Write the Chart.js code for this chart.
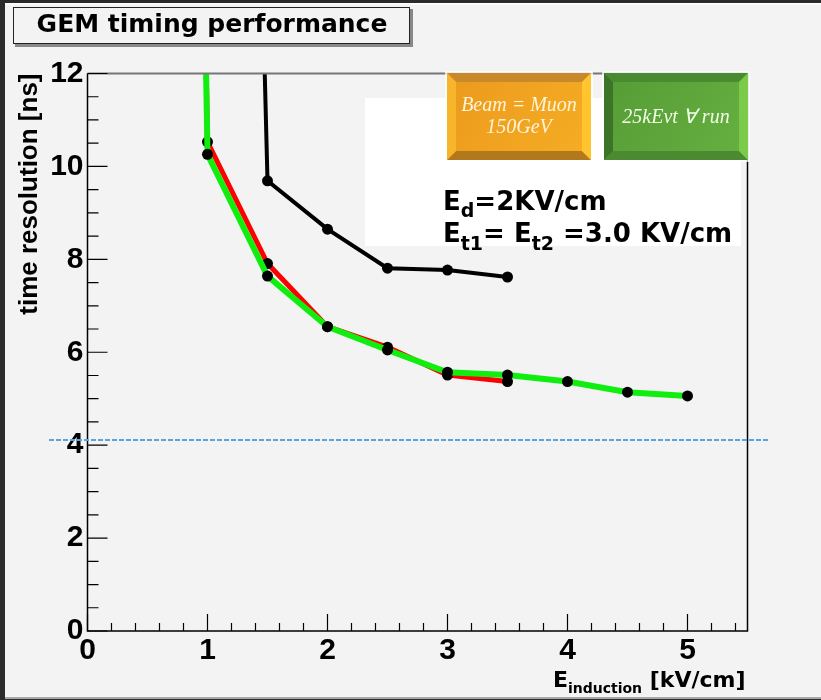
<!DOCTYPE html>
<html>
<head>
<meta charset="utf-8">
<script src="https://cdn.jsdelivr.net/npm/chart.js@4.4.0/dist/chart.umd.min.js"></script>
<style>
html,body{margin:0;padding:0;background:#2b2b2b;}
canvas{display:block;}
</style>
</head>
<body>
<canvas id="c" width="821" height="700"></canvas>
<script>
// E_induction [kV/cm] vs time resolution [ns]
var blackX = [1.0, 1.5, 2.0, 2.5, 3.0, 3.5];
var blackY = [60, 9.69, 8.65, 7.81, 7.77, 7.62];
var redX = [0.8, 1.0, 1.5, 2.0, 2.5, 3.0, 3.5];
var redY = [40, 10.53, 7.91, 6.55, 6.11, 5.51, 5.37];
var greenX = [0.8, 1.0, 1.5, 2.0, 2.5, 3.0, 3.5, 4.0, 4.5, 5.0];
var greenY = [40, 10.26, 7.64, 6.55, 6.05, 5.57, 5.51, 5.37, 5.14, 5.06];
var refLevel = 4.11;

var xMin = 0, xMax = 5.5, yMin = 0, yMax = 12;

function pts(xs, ys) {
	return xs.map(function (x, i) { return {x: x, y: ys[i]}; });
}

function runs(c, parts, x, y) {
	parts.forEach(function (p) {
		c.font = 'bold ' + p[1] + 'px "DejaVu Sans"';
		c.fillText(p[0], x, y + p[2]);
		x += c.measureText(p[0]).width;
	});
	return x;
}

function runsWidth(c, parts) {
	var w = 0;
	parts.forEach(function (p) {
		c.font = 'bold ' + p[1] + 'px "DejaVu Sans"';
		w += c.measureText(p[0]).width;
	});
	return w;
}

function poly(c, col, p) {
	c.fillStyle = col;
	c.beginPath();
	c.moveTo(p[0][0], p[0][1]);
	for (var i = 1; i < p.length; i++) c.lineTo(p[i][0], p[i][1]);
	c.closePath();
	c.fill();
}

function bevelBox(c, x, y, w, h, b, face, faceR, top, left, bottom, right) {
	var g = c.createLinearGradient(x, y, x + w, y + h);
	g.addColorStop(0, face);
	g.addColorStop(1, faceR);
	c.fillStyle = g;
	c.fillRect(x, y, w, h);
	poly(c, top, [[x, y], [x + w, y], [x + w - b, y + b], [x + b, y + b]]);
	poly(c, bottom, [[x, y + h], [x + w, y + h], [x + w - b, y + h - b], [x + b, y + h - b]]);
	poly(c, left, [[x, y], [x + b, y + b], [x + b, y + h - b], [x, y + h]]);
	poly(c, right, [[x + w, y], [x + w - b, y + b], [x + w - b, y + h - b], [x + w, y + h]]);
	c.strokeStyle = '#ffffff';
	c.lineWidth = 1.5;
	c.strokeRect(x - 1, y - 1, w + 2, h + 2);
}

var deco = {
	id: 'deco',
	beforeDraw: function (chart) {
		var c = chart.ctx;
		c.save();
		c.fillStyle = '#2b2b2b';
		c.fillRect(0, 0, 821, 700);
		c.fillStyle = '#f3f3f3';
		c.fillRect(5, 4, 816, 694);
		c.fillStyle = '#ffffff';
		c.fillRect(5, 3, 816, 1.5);
		c.fillStyle = '#a8a8a8';
		c.fillRect(5, 697, 816, 2);
		c.restore();
	},
	beforeDatasetsDraw: function (chart) {
		var c = chart.ctx;
		c.save();
		c.fillStyle = '#ffffff';
		c.fillRect(365, 98, 376, 148);
		c.restore();
	},
	afterDraw: function (chart) {
		var c = chart.ctx, a = chart.chartArea;
		var xs = chart.scales.x, ys = chart.scales.y;
		c.save();

		// frame
		c.strokeStyle = '#777777';
		c.lineWidth = 2;
		c.beginPath(); c.moveTo(a.left, a.top); c.lineTo(a.right, a.top); c.stroke();
		c.strokeStyle = '#000000';
		c.lineWidth = 1.5;
		c.beginPath();
		c.moveTo(a.left, a.top); c.lineTo(a.left, a.bottom); c.lineTo(a.right, a.bottom); c.lineTo(a.right, a.top);
		c.stroke();

		// ticks pointing inward
		c.lineWidth = 1.2;
		c.beginPath();
		for (var v = 0; v <= 54; v += 2) {
			var px = xs.getPixelForValue(v / 10);
			var len = (v % 10 === 0) ? 17 : 8;
			c.moveTo(px, a.bottom); c.lineTo(px, a.bottom - len);
		}
		for (var k = 0; k <= 24; k++) {
			var py = ys.getPixelForValue(k / 2);
			var ln = (k % 4 === 0) ? 20 : 11;
			c.moveTo(a.left, py); c.lineTo(a.left + ln, py);
		}
		c.stroke();

		// x axis title
		c.fillStyle = '#000000';
		c.textBaseline = 'alphabetic';
		var xt = [['E', 22, 0], ['induction', 14, 6], [' [kV/cm]', 22, 0]];
		runs(c, xt, a.right - runsWidth(c, xt) - 2, 687);

		// title box
		c.fillStyle = '#888888';
		c.fillRect(15, 9, 398, 38);
		c.fillStyle = '#f3f3f3';
		c.fillRect(13, 7, 397, 37);
		c.strokeStyle = '#222222';
		c.lineWidth = 1;
		c.strokeRect(13.5, 7.5, 396, 36);
		c.fillStyle = '#000000';
		c.font = 'bold 25px "DejaVu Sans"';
		c.textAlign = 'center';
		c.textBaseline = 'middle';
		c.fillText('GEM timing performance', 212, 25);

		// beam boxes
		bevelBox(c, 447, 73, 144, 87, 9, '#eb9a1c', '#f6ad24', '#c7892a', '#f7b52c', '#b2781c', '#ffc42e');
		bevelBox(c, 604, 73, 144, 87, 9, '#569c36', '#66b040', '#4a8a30', '#3d7428', '#4c8a32', '#7acb4a');
		c.font = 'italic 20px "Liberation Serif"';
		c.textBaseline = 'alphabetic';
		c.fillStyle = '#fff4d8';
		c.fillText('Beam = Muon', 519, 111);
		c.fillText('150GeV', 519, 133);
		c.fillStyle = '#f2ffe8';
		c.fillText('25kEvt \u2200 run', 676, 123);

		// field annotation
		c.textAlign = 'left';
		c.fillStyle = '#000000';
		runs(c, [['E', 26, 0], ['d', 19, 7], ['=2KV/cm', 26, 0]], 443, 210);
		runs(c, [['E', 26, 0], ['t1', 19, 8], ['= E', 26, 0], ['t2', 19, 8], [' =3.0 KV/cm', 26, 0]], 443, 242);

		// reference level
		var ry = ys.getPixelForValue(refLevel);
		c.strokeStyle = '#5aa5e0';
		c.lineWidth = 2;
		c.setLineDash([5, 2]);
		c.beginPath(); c.moveTo(49, ry); c.lineTo(768, ry); c.stroke();
		c.restore();
	}
};

function radius(ctx) {
	return ctx.raw && ctx.raw.y > yMax ? 0 : 5.5;
}

new Chart(document.getElementById('c'), {
	type: 'scatter',
	data: {
		datasets: [
			{label: 'black', data: pts(blackX, blackY), showLine: true, borderColor: '#000000', borderWidth: 4,
				pointRadius: radius, pointBackgroundColor: '#000000', pointBorderWidth: 0, pointHoverRadius: radius},
			{label: 'green', data: pts(greenX, greenY), showLine: true, borderColor: '#10ee10', borderWidth: 6,
				pointRadius: radius, pointBackgroundColor: '#000000', pointBorderWidth: 0, pointHoverRadius: radius},
			{label: 'red', data: pts(redX, redY), showLine: true, borderColor: '#ff0000', borderWidth: 5,
				pointRadius: radius, pointBackgroundColor: '#000000', pointBorderWidth: 0, pointHoverRadius: radius}
		]
	},
	options: {
		responsive: false,
		animation: false,
		devicePixelRatio: 1,
		layout: {padding: {left: 0, top: 73.5, right: 73.5, bottom: 0}},
		plugins: {legend: {display: false}, tooltip: {enabled: false}, title: {display: false}},
		scales: {
			x: {
				type: 'linear', min: xMin, max: xMax,
				grid: {display: false, drawTicks: false},
				border: {display: false},
				ticks: {stepSize: 1, includeBounds: false, padding: 2, color: '#000000',
					font: {family: 'Liberation Sans', size: 30, weight: 'bold'}},
				afterFit: function (s) { s.height = 69; }
			},
			y: {
				type: 'linear', min: yMin, max: yMax,
				grid: {display: false, drawTicks: false},
				border: {display: false},
				ticks: {stepSize: 2, padding: 4, color: '#000000',
					font: {family: 'Liberation Sans', size: 30, weight: 'bold'}},
				title: {display: true, text: 'time resolution [ns]', align: 'end', color: '#000000',
					padding: {top: 14, bottom: 0},
					font: {family: 'Liberation Sans', size: 26, weight: 'bold'}},
				afterFit: function (s) { s.width = 87.5; }
			}
		}
	},
	plugins: [deco]
});
</script>
</body>
</html>
